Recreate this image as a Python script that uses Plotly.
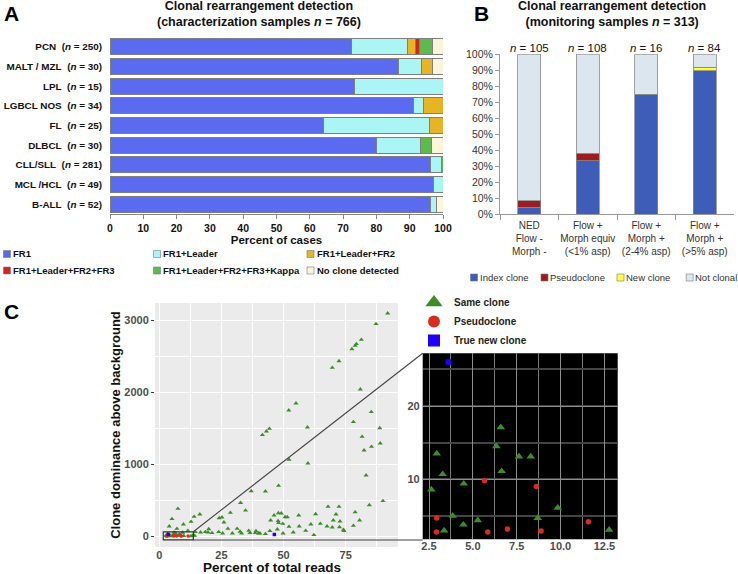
import plotly.graph_objects as go

W, H = 738, 574
FONT = "Liberation Sans, Arial, sans-serif"

# ---- panel A: characterization samples ----
diag_names = ["PCN", "MALT / MZL", "LPL", "LGBCL NOS", "FL", "DLBCL", "CLL/SLL", "MCL /HCL", "B-ALL"]
diag_n = [250, 30, 15, 34, 25, 30, 281, 49, 52]
pct_fr1 = [72.4, 86.7, 73.3, 91.2, 64.0, 80.0, 96.1, 97.2, 96.2]
pct_leader = [16.8, 6.7, 26.7, 2.9, 32.0, 13.3, 3.5, 2.8, 1.9]
pct_fr2 = [2.4, 3.3, 0, 5.9, 4.0, 0, 0, 0, 0]
pct_fr3 = [1.2, 0, 0, 0, 0, 0, 0, 0, 0]
pct_kappa = [4.0, 0, 0, 0, 0, 3.3, 0.4, 0, 0]
pct_none = [3.2, 3.3, 0, 0, 0, 3.4, 0, 0, 1.9]
char_series = ["FR1", "FR1+Leader", "FR1+Leader+FR2",
               "FR1+Leader+FR2+FR3", "FR1+Leader+FR2+FR3+Kappa", "No clone detected"]
char_colors = ["#5a6bf0", "#abf5f5", "#e6b425", "#d42222", "#5dba4e", "#fbf6d9"]

# ---- panel B: monitoring samples ----
mon_keys = ["ned", "equiv", "mid", "high"]
mon_labels = ["NED<br>Flow -<br>Morph -", "Flow +<br>Morph equiv<br>(&lt;1% asp)",
              "Flow +<br>Morph +<br>(2-4% asp)", "Flow +<br>Morph +<br>(&gt;5% asp)"]
mon_n = [105, 108, 16, 84]
pct_index = [4.2, 33.2, 75.0, 89.7]
pct_pseudo = [4.1, 4.8, 0, 0]
pct_new = [0, 0, 0, 2.1]
pct_notclonal = [91.7, 62.0, 25.0, 8.2]
mon_series = ["Index clone", "Pseudoclone", "New clone", "Not clonal"]
mon_colors = ["#3d5db8", "#9c1c1f", "#ffff3b", "#dce6ee"]

# ---- panel C: clone dominance vs percent of reads ----
same_x = [2.63, 2.94, 3.28, 3.36, 3.85, 4.48, 4.46, 5.28, 6.34, 6.59, 6.64, 7.63, 8.30, 8.70, 9.84, 12.77,
          91.9, 87.2, 81.3, 79.3, 78.8, 77.5, 72.3, 69.6, 80.9, 55.0, 52.1, 85.3, 78.1, 59.6, 88.7, 44.3,
          43.1, 41.5, 81.6, 88.9, 85.4, 82.4, 52.2, 59.8, 83.2, 48.0, 37.0, 42.7, 90.0, 84.5, 32.7, 7.5,
          34.7, 78.8,
          16.3, 14.0, 5.1, 12.8, 9.7, 7.1, 4.0, 28.6, 24.1, 25.2, 26.0, 16.6, 18.5, 19.6, 19.9, 21.2,
          23.9, 25.5, 27.6, 29.4, 31.3, 32.5, 33.1, 36.0, 36.5, 38.6, 38.9, 39.9, 40.5, 42.7, 44.5, 46.2,
          47.9, 49.1, 44.8, 47.8, 48.0, 50.6, 51.5, 49.7, 47.5, 49.8, 52.2, 53.9, 56.1, 56.3, 58.9, 61.0,
          62.9, 62.2, 64.8, 67.9, 67.5, 70.0, 71.1, 69.6, 72.3, 72.7, 72.5, 74.1, 74.3, 80.6, 78.1, 3.4,
          5.9, 9.4, 11.5, 14.5, 13.6, 14.2, 6.5, 8.2]
same_y = [8.6, 13.5, 10.7, 3.0, 5.0, 9.4, 3.8, 4.4, 14.5, 17.1, 11.1, 13.1, 13.1, 4.7, 6.1, 3.1,
          3101, 2953, 2735, 2675, 2651, 2605, 2438, 2345, 2044, 1850, 1752, 1729, 1590, 1516, 1506, 1497,
          1460, 1409, 1386, 1293, 1246, 1196, 1068, 1015, 848, 704, 630, 626, 491, 435, 465, 384,
          360, 336,
          306, 273, 241, 203, 167, 106, 139, 329, 254, 264, 194, 55, 60, 55, 101, 46,
          60, 42, 106, 42, 106, 65, 42, 78, 46, 46, 74, 42, 42, 33, 74, 292,
          324, 319, 222, 213, 185, 268, 268, 176, 97, 42, 134, 55, 292, 139, 78, 167,
          310, 18, 176, 412, 139, 222, 306, 125, 412, 208, 129, 92, 74, 222, 148, 37,
          51, 51, 78, 60, 14, 8, 45, 30]
pseudo_x = [2.94, 2.92, 5.67, 5.85, 6.97, 8.62, 8.89, 11.59]
pseudo_y = [4.7, 2.8, 9.8, 2.8, 3.2, 9.0, 2.95, 4.2]
newc_x = [3.6, 46.3]
newc_y = [26.0, 25.0]
c_series = ["Same clone", "Pseudoclone", "True new clone"]
c_colors = ["#3c8c28", "#d92b1e", "#1e00ff"]

main_xticks = [0, 25, 50, 75]
main_yticks = [0, 1000, 2000, 3000]
inset_xticks = [2.5, 5.0, 7.5, 10.0, 12.5]
inset_yticks = [10, 20]


def fx(px):
    return px / W


def fy(py):
    return 1 - py / H


fig = go.Figure()

# panel A stacked bars
for vals, name, color in zip([pct_fr1, pct_leader, pct_fr2, pct_fr3, pct_kappa, pct_none],
                             char_series, char_colors):
    fig.add_trace(go.Bar(y=diag_names, x=vals, orientation="h", name=name, width=0.82,
                         marker=dict(color=color, line=dict(color="#7f7f7f", width=1)),
                         xaxis="x", yaxis="y", showlegend=False))

# panel B stacked bars
for vals, name, color in zip([pct_index, pct_pseudo, pct_new, pct_notclonal], mon_series, mon_colors):
    fig.add_trace(go.Bar(x=mon_keys, y=vals, name=name, width=0.4,
                         marker=dict(color=color, line=dict(color="#8a8a8a", width=0.8)),
                         xaxis="x2", yaxis="y2", showlegend=False))

# panel C: main scatter (small) and zoomed inset (bigger)
for xs, ys, name, color, sym in zip([same_x, pseudo_x, newc_x], [same_y, pseudo_y, newc_y],
                                    c_series, c_colors, ["triangle-up", "circle", "square"]):
    fig.add_trace(go.Scatter(x=xs, y=ys, mode="markers", name=name, showlegend=False,
                             marker=dict(symbol=sym, size=4.5 if sym == "triangle-up" else 3.5, color=color),
                             xaxis="x3", yaxis="y3"))
    fig.add_trace(go.Scatter(x=xs, y=ys, mode="markers", name=name, showlegend=False,
                             marker=dict(symbol=sym, size=7.5 if sym == "triangle-up" else 5.5, color=color),
                             xaxis="x4", yaxis="y4"))
# legend entries for panel C
for name, color, sym, size in zip(c_series, c_colors, ["triangle-up", "circle", "square"], [15, 12, 12]):
    fig.add_trace(go.Scatter(x=[None], y=[None], mode="markers", name=name, legend="legend",
                             marker=dict(symbol=sym, size=size, color=color),
                             xaxis="x4", yaxis="y4"))

shapes = []
annotations = []

# backgrounds of panel C
shapes.append(dict(type="rect", xref="x3 domain", yref="y3 domain", x0=0, x1=1, y0=0, y1=1,
                   fillcolor="#ebebeb", line=dict(width=0), layer="below"))
shapes.append(dict(type="rect", xref="x4 domain", yref="y4 domain", x0=0, x1=1, y0=0, y1=1,
                   fillcolor="black", line=dict(width=0), layer="below"))
# zoom box and connector lines
shapes.append(dict(type="rect", xref="x3", yref="y3", x0=1.6, x1=13.7, y0=-50, y1=60,
                   line=dict(color="#333", width=1.2)))
shapes.append(dict(type="line", xref="paper", yref="paper", x0=fx(193.3), y0=fy(531.7),
                   x1=fx(422.7), y1=fy(353.3), line=dict(color="#444", width=1.1)))
shapes.append(dict(type="line", xref="paper", yref="paper", x0=fx(193.3), y0=fy(540),
                   x1=fx(422.7), y1=fy(540), line=dict(color="#444", width=1.1)))

# manual legend of panel A (two rows of three)
leg_a_pos = [(7, 254), (157, 254), (310.5, 254), (7, 270.5), (157, 270.5), (310.5, 270.5)]
for (px, py), name, color in zip(leg_a_pos, char_series, char_colors):
    shapes.append(dict(type="rect", xref="paper", yref="paper", x0=fx(px - 3.5), x1=fx(px + 3.5),
                       y0=fy(py + 3.5), y1=fy(py - 3.5), fillcolor=color, line=dict(color="#777", width=0.6)))
    annotations.append(dict(x=fx(px + 4), y=fy(py), xref="paper", yref="paper", text=name, showarrow=False,
                            xanchor="left", yanchor="middle",
                            font=dict(size=9.5, weight="bold", color="#111")))

# manual legend of panel B
leg_b_pos = [474, 544.5, 620.5, 689.7]
for px, name, color in zip(leg_b_pos, mon_series, mon_colors):
    shapes.append(dict(type="rect", xref="paper", yref="paper", x0=fx(px - 3.5), x1=fx(px + 3.5),
                       y0=fy(281), y1=fy(274), fillcolor=color, line=dict(color="#777", width=0.6)))
    annotations.append(dict(x=fx(px + 3.5), y=fy(277.5), xref="paper", yref="paper", text=name,
                            showarrow=False, xanchor="left", yanchor="middle",
                            font=dict(size=9.5, color="#333")))

# n labels over the monitoring bars
for key, n in zip(mon_keys, mon_n):
    annotations.append(dict(x=key, xref="x2", y=fy(47.5), yref="paper", text=f"<i>n</i> = {n}",
                            showarrow=False, yanchor="middle", font=dict(size=11.5, color="#111")))

# x title of panel C
annotations.append(dict(x=fx(272), y=fy(567.5), xref="paper", yref="paper", text="Percent of total reads",
                        showarrow=False, xanchor="center", yanchor="middle",
                        font=dict(size=13.5, weight="bold", color="#111")))

# titles and panel letters
annotations.append(dict(x=fx(259), y=fy(-3), xref="paper", yref="paper", showarrow=False,
                        xanchor="center", yanchor="top",
                        text="Clonal rearrangement detection<br>(characterization samples <i>n</i> = 766)",
                        font=dict(size=12.5, weight="bold", color="#111")))
annotations.append(dict(x=fx(611.5), y=fy(-3), xref="paper", yref="paper", showarrow=False,
                        xanchor="center", yanchor="top",
                        text="Clonal rearrangement detection<br>(monitoring samples <i>n</i> = 313)",
                        font=dict(size=12.5, weight="bold", color="#111")))
for letter, px, py in [("A", 2, 0), ("B", 472, 0), ("C", 2, 298)]:
    annotations.append(dict(x=fx(px), y=fy(py), xref="paper", yref="paper", text=letter, showarrow=False,
                            xanchor="left", yanchor="top", font=dict(size=21, weight="bold", color="black")))

fig.update_layout(
    width=W, height=H, autosize=False,
    margin=dict(l=0, r=0, t=0, b=0),
    paper_bgcolor="white", plot_bgcolor="rgba(0,0,0,0)",
    font=dict(family=FONT, color="#111"),
    barmode="stack",
    shapes=shapes,
    annotations=annotations,
    legend=dict(x=fx(414), y=fy(288), xanchor="left", yanchor="top", orientation="v",
                traceorder="normal", bgcolor="rgba(0,0,0,0)", tracegroupgap=0,
                font=dict(size=10, weight="bold", color="#222")),
    # panel A
    xaxis=dict(domain=[fx(110), fx(443)], anchor="y", automargin=False, range=[0, 100], dtick=10,
               showgrid=False, zeroline=False, showline=True, linecolor="#888", ticks="outside", ticklen=4,
               tickcolor="#888", tickfont=dict(size=10.5, weight="bold", color="#111"),
               title=dict(text="Percent of cases", standoff=2,
                          font=dict(size=11.5, weight="bold", color="#111"))),
    yaxis=dict(domain=[fy(214), fy(37)], anchor="x", automargin=False, autorange="reversed", showgrid=False,
               tickvals=diag_names, ticks="", ticklabelstandoff=7,
               ticktext=[f"{d}\u00a0\u00a0(<i>n</i>\u00a0=\u00a0{n})" for d, n in zip(diag_names, diag_n)],
               tickfont=dict(size=9.9, weight="bold", color="#111")),
    # panel B
    xaxis2=dict(domain=[fx(500), fx(734)], anchor="y2", automargin=False, tickvals=mon_keys,
                ticktext=mon_labels, tickangle=0, ticklabelstandoff=2,
                tickson="boundaries", ticks="outside", ticklen=5, tickcolor="#999",
                showline=True, linecolor="#999", showgrid=False,
                tickfont=dict(size=10, color="#333")),
    yaxis2=dict(domain=[fy(214), fy(54.3)], anchor="x2", automargin=False, range=[0, 100], dtick=10,
                ticksuffix="%", showgrid=False, zeroline=False, showline=True, linecolor="#999",
                ticks="outside", ticklen=4, tickcolor="#999", tickfont=dict(size=10.5, color="#333")),
    # panel C main
    xaxis3=dict(domain=[fx(155), fx(398)], anchor="y3", automargin=False, range=[-1.73, 96.05],
                tickvals=main_xticks, showgrid=True, gridcolor="white", gridwidth=1.1, zeroline=False,
                minor=dict(dtick=12.5, tick0=0, showgrid=True, gridcolor="white", gridwidth=0.5),
                ticks="", tickfont=dict(size=11, weight="bold", color="#4d4d4d")),
    yaxis3=dict(domain=[fy(547), fy(303)], anchor="x3", automargin=False, range=[-149, 3245],
                tickvals=main_yticks, showgrid=True, gridcolor="white", gridwidth=1.1, zeroline=False,
                minor=dict(dtick=500, tick0=0, showgrid=True, gridcolor="white", gridwidth=0.5),
                ticks="outside", ticklen=3, tickcolor="#333",
                tickfont=dict(size=11, weight="bold", color="#4d4d4d"),
                title=dict(text="Clone dominance above background", standoff=0,
                           font=dict(size=13, weight="bold", color="#111"))),
    # panel C inset
    xaxis4=dict(domain=[fx(422.7), fx(617.7)], anchor="y4", automargin=False, range=[2.14, 13.26],
                tickvals=inset_xticks, ticktext=[f"{v:.1f}" for v in inset_xticks],
                showgrid=True, gridcolor="#8c8c8c", gridwidth=1, zeroline=False,
                minor=dict(dtick=1.25, tick0=2.5, showgrid=True, gridcolor="#7a7a7a", gridwidth=1),
                ticks="", ticklabelstandoff=-1,
                tickfont=dict(size=11, weight="bold", color="#4d4d4d")),
    yaxis4=dict(domain=[fy(539.3), fy(353.3)], anchor="x4", automargin=False, range=[1.8, 27.2],
                tickvals=inset_yticks, showgrid=True, gridcolor="#8c8c8c", gridwidth=1, zeroline=False,
                minor=dict(dtick=5, tick0=0, showgrid=True, gridcolor="#444", gridwidth=1.5),
                ticks="", ticklabelstandoff=2,
                tickfont=dict(size=11, weight="bold", color="#4d4d4d")),
)

# the page body keeps the browser's default 8px margin; drop it so the figure fills the window
fig.write_html("out.html", config={"displayModeBar": False},
               post_script="document.body.style.margin = '0px';")
